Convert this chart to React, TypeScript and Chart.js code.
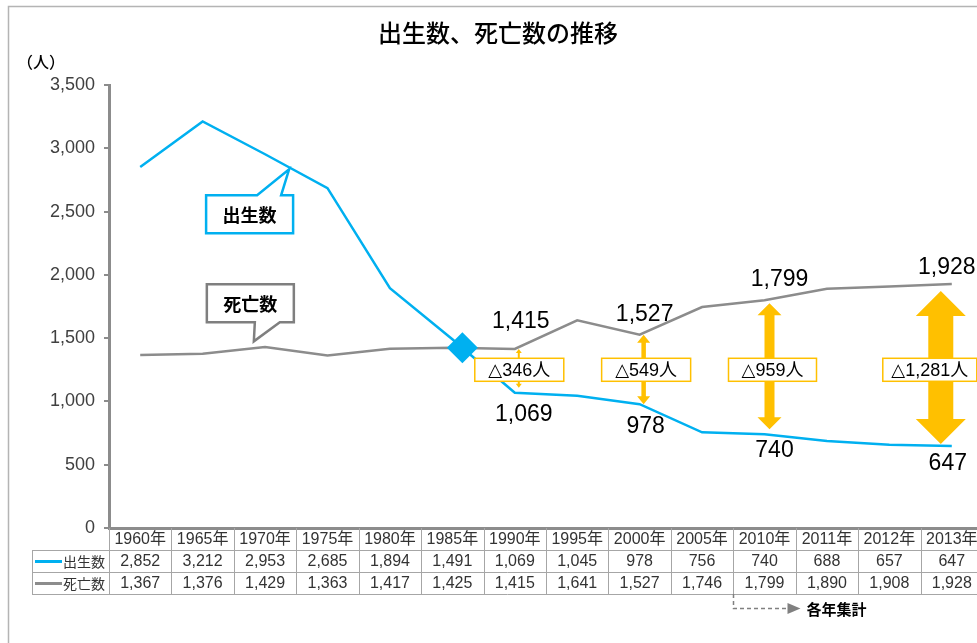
import { useEffect, useRef } from "react";
import { Chart, registerables } from "chart.js";

Chart.register(...registerables);

// ---------- data ----------
const years = ["1960年", "1965年", "1970年", "1975年", "1980年", "1985年", "1990年", "1995年", "2000年", "2005年", "2010年", "2011年", "2012年", "2013年"];
const births = [2852, 3212, 2953, 2685, 1894, 1491, 1069, 1045, 978, 756, 740, 688, 657, 647];
const deaths = [1367, 1376, 1429, 1363, 1417, 1425, 1415, 1641, 1527, 1746, 1799, 1890, 1908, 1928];
const seriesNames = ["出生数", "死亡数"];
const yMin = 0;
const yMax = 3500;
const yStep = 500;
const labelYears = ["1990年", "2000年", "2010年", "2013年"];
const deltaLabels = ["△346人", "△549人", "△959人", "△1,281人"];
const titleText = "出生数、死亡数の推移";
const unitText = "（人）";
const noteText = "各年集計";
const noteFromYear = "2010年";

// ---------- styles ----------
const BLUE = "#00B0F0";
const GRAY = "#8C8C8C";
const ORANGE = "#FFC000";
const NUM_FONT = '"Liberation Sans", Arial, "Noto Sans CJK JP", sans-serif';
const DELTA_FONT = '"Liberation Sans", "DejaVu Sans", "Noto Sans CJK JP", sans-serif';
const JP_FONT = '"Noto Sans CJK JP", "Noto Sans", sans-serif';

// per-annotation pixel styling (offsets from the data-derived anchor)
const deathLabelOff = [[6, -27], [5, -20], [15, -21], [-5, -16]];
const birthLabelOff = [[9, 22], [6, 22], [10, 16], [-4, 18]];
const arrowStyle = [
  { dx: 4, top: 0, bottom: 5, shaft: 2, head: 6, headH: 4 },
  { dx: 4, top: 0, bottom: 0, shaft: 4.5, head: 13, headH: 8 },
  { dx: 5, top: 3, bottom: 5, shaft: 10, head: 24, headH: 12 },
  { dx: -11, top: 7, bottom: 2, shaft: 25, head: 50, headH: 25 },
];
const boxStyle = [
  { dx: 4.5, w: 89 },
  { dx: 6.5, w: 89 },
  { dx: 8, w: 88 },
  { dx: -22, w: 94 },
];
const BOX_VALUE = 1250;

function interp(arr: number[], idx: number) {
  const i = Math.floor(idx);
  const t = idx - i;
  return arr[i] + (arr[i + 1] - arr[i]) * t;
}

const overlay = {
  id: "overlay",
  afterDraw(chart: any) {
    const { ctx, chartArea: ca } = chart;
    const x = chart.scales.x;
    const y = chart.scales.y;
    const colW = (ca.right - ca.left) / years.length;
    ctx.save();

    // outer frame
    ctx.strokeStyle = "#B4B4B4";
    ctx.lineWidth = 1.5;
    ctx.strokeRect(8.5, 6.5, 1200, 1200);

    // title
    ctx.fillStyle = "#000";
    ctx.font = `500 24px ${JP_FONT}`;
    ctx.textAlign = "center";
    ctx.textBaseline = "middle";
    ctx.fillText(titleText, 498, 33);

    // unit
    ctx.font = `500 16px ${JP_FONT}`;
    ctx.fillText(unitText, 41, 62);

    // crossing diamond (intersection of the two series)
    for (let i = 0; i < births.length - 1; i++) {
      const d0 = births[i] - deaths[i];
      const d1 = births[i + 1] - deaths[i + 1];
      if (d0 > 0 && d1 <= 0) {
        const t = d0 / (d0 - d1);
        const cx = x.getPixelForValue(i + t);
        const cy = y.getPixelForValue(interp(deaths, i + t));
        const r = 15.5;
        ctx.fillStyle = BLUE;
        ctx.beginPath();
        ctx.moveTo(cx, cy - r);
        ctx.lineTo(cx + r, cy);
        ctx.lineTo(cx, cy + r);
        ctx.lineTo(cx - r, cy);
        ctx.closePath();
        ctx.fill();
      }
    }

    // arrows
    labelYears.forEach((yr, k) => {
      const i = years.indexOf(yr);
      const s = arrowStyle[k];
      const cx = x.getPixelForValue(i) + s.dx;
      const top = y.getPixelForValue(deaths[i]) + s.top;
      const bot = y.getPixelForValue(births[i]) - s.bottom;
      const hw = s.head / 2;
      const sw = s.shaft / 2;
      ctx.fillStyle = ORANGE;
      ctx.beginPath();
      ctx.moveTo(cx, top);
      ctx.lineTo(cx + hw, top + s.headH);
      ctx.lineTo(cx + sw, top + s.headH);
      ctx.lineTo(cx + sw, bot - s.headH);
      ctx.lineTo(cx + hw, bot - s.headH);
      ctx.lineTo(cx, bot);
      ctx.lineTo(cx - hw, bot - s.headH);
      ctx.lineTo(cx - sw, bot - s.headH);
      ctx.lineTo(cx - sw, top + s.headH);
      ctx.lineTo(cx - hw, top + s.headH);
      ctx.closePath();
      ctx.fill();
    });

    // delta boxes
    const boxCy = y.getPixelForValue(BOX_VALUE);
    labelYears.forEach((yr, k) => {
      const i = years.indexOf(yr);
      const b = boxStyle[k];
      const cx = x.getPixelForValue(i) + b.dx;
      ctx.fillStyle = "#fff";
      ctx.fillRect(cx - b.w / 2, boxCy - 11.5, b.w, 23);
      ctx.strokeStyle = ORANGE;
      ctx.lineWidth = 1.5;
      ctx.strokeRect(cx - b.w / 2, boxCy - 11.5, b.w, 23);
      ctx.fillStyle = "#000";
      ctx.font = `18px ${DELTA_FONT}`;
      ctx.textAlign = "center";
      ctx.textBaseline = "middle";
      ctx.fillText(deltaLabels[k], cx, boxCy + 1);
    });

    // data labels
    ctx.font = `23px ${NUM_FONT}`;
    ctx.fillStyle = "#000";
    labelYears.forEach((yr, k) => {
      const i = years.indexOf(yr);
      const px = x.getPixelForValue(i);
      ctx.fillText(deaths[i].toLocaleString("en-US"), px + deathLabelOff[k][0], y.getPixelForValue(deaths[i]) + deathLabelOff[k][1]);
      ctx.fillText(births[i].toLocaleString("en-US"), px + birthLabelOff[k][0], y.getPixelForValue(births[i]) + birthLabelOff[k][1]);
    });

    // callouts
    const drawCallout = (color: string, text: string, pts: number[][], box: number[]) => {
      ctx.lineWidth = 2.5;
      ctx.strokeStyle = color;
      ctx.fillStyle = "#fff";
      ctx.lineJoin = "miter";
      ctx.beginPath();
      pts.forEach((p, j) => (j === 0 ? ctx.moveTo(p[0], p[1]) : ctx.lineTo(p[0], p[1])));
      ctx.closePath();
      ctx.fill();
      ctx.stroke();
      ctx.fillStyle = "#000";
      ctx.font = `bold 18px ${JP_FONT}`;
      ctx.textAlign = "center";
      ctx.textBaseline = "middle";
      ctx.fillText(text, (box[0] + box[2]) / 2, (box[1] + box[3]) / 2 + 1);
    };
    {
      const ti = 2.385;
      const tx = x.getPixelForValue(ti);
      const ty = y.getPixelForValue(interp(births, ti)) + 2;
      const L = tx - 83, R = tx + 4, T = ty + 26, B = ty + 64;
      drawCallout(BLUE, seriesNames[0], [[L, T], [tx - 32, T], [tx, ty], [tx - 8, T], [R, T], [R, B], [L, B]], [L, T, R, B]);
    }
    {
      const ti = 1.82;
      const tx = x.getPixelForValue(ti);
      const ty = y.getPixelForValue(interp(deaths, ti)) - 7;
      const L = tx - 47, R = tx + 40, T = ty - 57, B = ty - 19;
      drawCallout("#7F7F7F", seriesNames[1], [[L, T], [R, T], [R, B], [tx + 26, B], [tx, ty], [tx + 1, B], [L, B]], [L, T, R, B]);
    }

    // data table
    const r0 = ca.bottom, rh = 22;
    const r1 = r0 + rh, r2 = r1 + rh, r3 = r2 + rh;
    ctx.strokeStyle = "#A6A6A6";
    ctx.lineWidth = 1;
    ctx.beginPath();
    [r1, r2, r3].forEach((ry) => {
      ctx.moveTo(32, ry + 0.5);
      ctx.lineTo(ca.right, ry + 0.5);
    });
    for (let i = 0; i <= years.length; i++) {
      const bx = Math.round(ca.left + i * colW) + 0.5;
      ctx.moveTo(bx, r0);
      ctx.lineTo(bx, r3);
    }
    ctx.moveTo(32.5, r1);
    ctx.lineTo(32.5, r3);
    ctx.stroke();

    ctx.fillStyle = "#333";
    ctx.textAlign = "center";
    ctx.textBaseline = "middle";
    years.forEach((yr, i) => {
      const cx = x.getPixelForValue(i);
      ctx.font = `16px ${NUM_FONT}`;
      ctx.fillText(yr, cx, r0 + 11.5);
      ctx.fillText(births[i].toLocaleString("en-US"), cx, r1 + 11.5);
      ctx.fillText(deaths[i].toLocaleString("en-US"), cx, r2 + 11.5);
    });
    // legend keys
    [[BLUE, seriesNames[0], r1], [GRAY, seriesNames[1], r2]].forEach(([c, t, ry]: any) => {
      ctx.strokeStyle = c;
      ctx.lineWidth = 3;
      ctx.beginPath();
      ctx.moveTo(35, ry + 11.5);
      ctx.lineTo(62, ry + 11.5);
      ctx.stroke();
      ctx.fillStyle = "#333";
      ctx.font = `14px ${JP_FONT}`;
      ctx.textAlign = "right";
      ctx.fillText(t, 105, ry + 11.5);
    });

    // note: 各年集計
    const nx = Math.round(ca.left + years.indexOf(noteFromYear) * colW) + 0.5;
    const ny = r3 + 14.5;
    ctx.strokeStyle = "#808080";
    ctx.lineWidth = 1.5;
    ctx.setLineDash([4, 3]);
    ctx.beginPath();
    ctx.moveTo(nx, r3);
    ctx.lineTo(nx, ny);
    ctx.lineTo(nx + 54, ny);
    ctx.stroke();
    ctx.setLineDash([]);
    ctx.fillStyle = "#808080";
    ctx.beginPath();
    ctx.moveTo(nx + 54, ny - 5.5);
    ctx.lineTo(nx + 67, ny);
    ctx.lineTo(nx + 54, ny + 5.5);
    ctx.closePath();
    ctx.fill();
    ctx.fillStyle = "#000";
    ctx.font = `bold 15px ${JP_FONT}`;
    ctx.textAlign = "left";
    ctx.fillText(noteText, nx + 73, ny + 0.5);

    ctx.restore();
  },
};

export default function App() {
  const ref = useRef<HTMLCanvasElement>(null);
  useEffect(() => {
    const chart = new Chart(ref.current!, {
      type: "line",
      data: {
        labels: years,
        datasets: [
          { label: seriesNames[0], data: births, borderColor: BLUE, backgroundColor: BLUE, borderWidth: 2.5, pointRadius: 0, tension: 0 },
          { label: seriesNames[1], data: deaths, borderColor: GRAY, backgroundColor: GRAY, borderWidth: 2.5, pointRadius: 0, tension: 0 },
        ],
      },
      options: {
        animation: false,
        responsive: false,
        devicePixelRatio: 1,
        layout: { padding: { left: 0, top: 85, right: 17, bottom: 115 } },
        plugins: { legend: { display: false }, tooltip: { enabled: false }, title: { display: false } },
        scales: {
          x: {
            offset: true,
            grid: { display: false },
            ticks: { display: false },
            border: { display: true, color: GRAY, width: 3 },
            afterFit: (s: any) => { s.height = 0; },
          },
          y: {
            min: yMin,
            max: yMax,
            ticks: {
              stepSize: yStep,
              color: "#404040",
              font: { family: NUM_FONT, size: 18 },
              padding: 9,
              callback: (v: any) => Number(v).toLocaleString("en-US"),
            },
            grid: { display: true, drawOnChartArea: false, drawTicks: true, tickLength: 5, color: GRAY, lineWidth: 2 },
            border: { display: true, color: GRAY, width: 3 },
            afterFit: (s: any) => { s.width = 109; },
          },
        },
      },
      plugins: [overlay],
    });
    return () => chart.destroy();
  }, []);
  return (
    <div style={{ position: "fixed", left: 0, top: 0, width: 977, height: 643, overflow: "hidden", background: "#fff" }}>
      <canvas ref={ref} width={1000} height={643} style={{ display: "block", width: 1000, height: 643 }} />
    </div>
  );
}
